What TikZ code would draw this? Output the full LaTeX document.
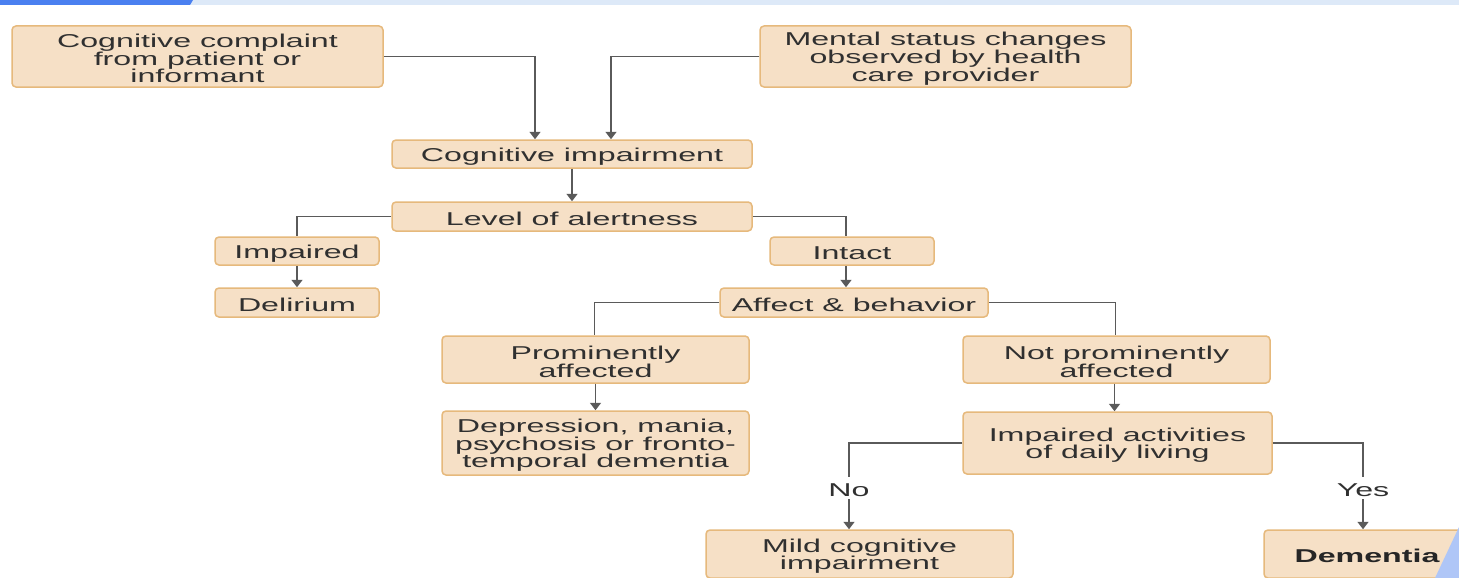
\documentclass[tikz,border=0pt]{standalone}
\usepackage{fontspec}
\setmainfont{Liberation Sans}
\usetikzlibrary{arrows.meta}
\definecolor{boxfill}{HTML}{F6E0C6}
\definecolor{boxdraw}{HTML}{E6B97C}
\definecolor{txt}{HTML}{303030}
\definecolor{wire}{HTML}{5A5A5A}
\definecolor{bandlight}{HTML}{DDE9F8}
\definecolor{banddark}{HTML}{4A80F0}
\definecolor{cornerblue}{HTML}{AFC6F7}
\newcommand{\T}[1]{\raisebox{-2.2pt}[\height][\depth]{\scalebox{1.73}[1]{\vbox{\baselineskip=17.6pt\lineskiplimit=-20pt\lineskip=0pt\halign{\hfil##\hfil\cr#1\crcr}}}}}
\tikzset{
  box/.style={draw=boxdraw, fill=boxfill, line width=1.5pt, rounded corners=4pt,
    text=txt, inner sep=0pt, align=center},
  lbl/.style={text=txt, inner sep=0pt, minimum height=22pt},
  wireline/.style={draw=wire, line width=1.6pt},
  arr/.style={wireline, -{Triangle[length=7.5pt,width=11pt]}}
}
\begin{document}
\begin{tikzpicture}[x=1pt,y=-1pt, font=\fontsize{18.6}{17.6}\selectfont]
\useasboundingbox (0,0) rectangle (1459,578);
\clip (0,0) rectangle (1459,578);
\fill[white] (0,0) rectangle (1459,578);
% top band
\fill[bandlight] (0,0) rectangle (1459,5);
\fill[banddark] (0,0) -- (193,0) -- (190,5) -- (0,5) -- cycle;

% nodes
\node[box, minimum width=371pt, minimum height=61pt] (cc) at (197.5,56.5) {\T{Cognitive complaint\cr from patient or\cr informant}};
\node[box, minimum width=371pt, minimum height=61pt] (ms) at (945.5,56.5) {\T{Mental status changes\cr observed by health\cr care provider}};
\node[box, minimum width=360pt, minimum height=28pt] (ci) at (572,154) {\T{Cognitive impairment}};
\node[box, minimum width=360pt, minimum height=29pt] (la) at (572,216.5) {\T{Level of alertness}};
\node[box, minimum width=164pt, minimum height=28pt] (imp) at (297,251) {\T{Impaired}};
\node[box, minimum width=164pt, minimum height=29pt] (del) at (297,302.5) {\T{Delirium}};
\node[box, minimum width=164pt, minimum height=28pt] (int) at (852,251) {\T{Intact}};
\node[box, minimum width=268pt, minimum height=29pt] (ab) at (854,302.5) {\T{Affect \& behavior}};
\node[box, minimum width=307pt, minimum height=47pt] (pa) at (595.5,359.5) {\T{Prominently\cr affected}};
\node[box, minimum width=307pt, minimum height=64pt] (dep) at (595.5,443) {\T{Depression, mania,\cr psychosis or fronto-\cr temporal dementia}};
\node[box, minimum width=307pt, minimum height=47pt] (npa) at (1116.5,359.5) {\T{Not prominently\cr affected}};
\node[box, minimum width=309pt, minimum height=62pt] (adl) at (1117.5,443) {\T{Impaired activities\cr of daily living}};
\node[box, minimum width=307pt, minimum height=48pt] (mci) at (859.5,554) {\T{Mild cognitive\cr impairment}};
\node[box, minimum width=206pt, minimum height=48pt, text=black!85] (dem) at (1367,554) {\T{\bfseries Dementia}};
\node[lbl] (no) at (849,488) {\T{No}};
\node[lbl] (yes) at (1363,488) {\T{Yes}};

% connectors
\draw[arr] (cc.east) -| ([xshift=-37pt]ci.north);
\draw[arr] (ms.west) -| ([xshift=39pt]ci.north);
\draw[arr] (ci.south) -- (la.north);
\draw[wireline] (la.west) -| (imp.north);
\draw[wireline] (la.east) -| ([xshift=-6pt]int.north);
\draw[arr] (imp.south) -- (del.north);
\draw[arr] ([xshift=-6pt]int.south) -- ([xshift=-6pt]int.south |- ab.north);
\draw[wireline] (ab.west) -| ([xshift=-1pt]pa.north);
\draw[wireline] (ab.east) -| ([xshift=-1pt]npa.north);
\draw[arr] (pa.south) -- (dep.north);
\draw[arr] ([xshift=-2pt]npa.south) -- ([xshift=-2pt]npa.south |- adl.north);
\draw[wireline] (adl.west) -| (no.north);
\draw[arr] (no.south) -- (no.south |- mci.north);
\draw[wireline] (adl.east) -| (yes.north);
\draw[arr] (yes.south) -- (yes.south |- dem.north);

% corner decoration
\fill[cornerblue] (1435,578) -- (1459,527) -- (1459,578) -- cycle;
\end{tikzpicture}
\end{document}
